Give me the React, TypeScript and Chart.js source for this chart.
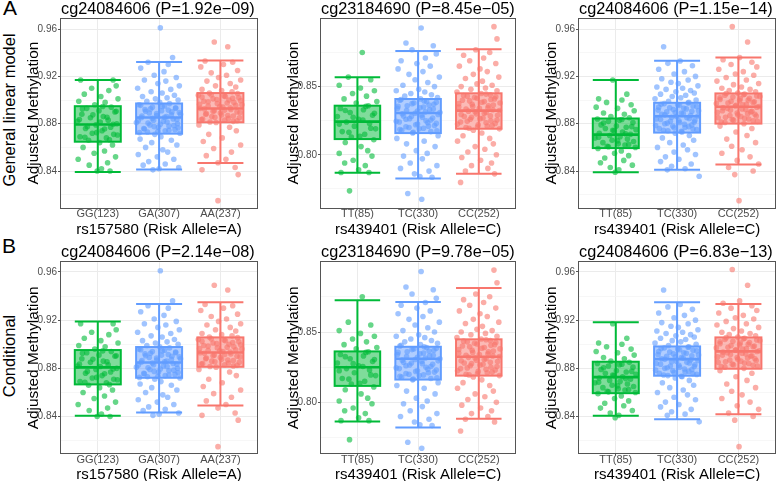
import React, { useEffect, useRef } from "react";
import { Chart, registerables } from "chart.js";
Chart.register(...registerables);

const FONT = "'Liberation Sans', Arial, Helvetica, sans-serif";
Chart.defaults.font.family = FONT;

const COLORS = ["#00BA38", "#619CFF", "#F8766D"];

// ---- categories / titles ----
const CATS_A = ["GG(123)", "GA(307)", "AA(237)"];
const CATS_C = ["TT(85)", "TC(330)", "CC(252)"];
const XTITLE_A = "rs157580 (Risk Allele=A)";
const XTITLE_C = "rs439401 (Risk Allele=C)";
const TITLES = [
  "cg24084606 (P=1.92e\u221209)",
  "cg23184690 (P=8.45e\u221205)",
  "cg24084606 (P=1.15e\u221214)",
  "cg24084606 (P=2.14e\u221208)",
  "cg23184690 (P=9.78e\u221205)",
  "cg24084606 (P=6.83e\u221213)",
];

// ---- y ticks ----
const Y_TICKS_1 = [0.82, 0.84, 0.86, 0.88, 0.9, 0.92, 0.94, 0.96];
const Y_MAJOR_1 = [0.84, 0.88, 0.92, 0.96];
const Y_TICKS_2 = [0.775, 0.8, 0.825, 0.85, 0.875];
const Y_MAJOR_2 = [0.8, 0.85];

// ---- box stats: [lower whisker, Q1, median, Q3, upper whisker] ----
const P1_STATS = [[0.8393, 0.8648, 0.8793, 0.8948, 0.9169], [0.8413, 0.8716, 0.8852, 0.8971, 0.9322], [0.8467, 0.8812, 0.8929, 0.9059, 0.9334]];
const P2_STATS = [[0.7868, 0.8115, 0.8243, 0.836, 0.8569], [0.7826, 0.8159, 0.8306, 0.8409, 0.8762], [0.786, 0.8191, 0.8324, 0.8451, 0.8775]];
const P3_STATS = [[0.839, 0.8594, 0.8708, 0.8844, 0.9169], [0.841, 0.8725, 0.8863, 0.8977, 0.9331], [0.8456, 0.8801, 0.8943, 0.9056, 0.9359]];
const P4_STATS = [[0.8406, 0.8667, 0.8808, 0.8952, 0.919], [0.8434, 0.8722, 0.8849, 0.8977, 0.9334], [0.8492, 0.8813, 0.8932, 0.9057, 0.9348]];
const P5_STATS = [[0.7864, 0.8117, 0.825, 0.8362, 0.8726], [0.7821, 0.8162, 0.831, 0.8395, 0.8714], [0.7883, 0.819, 0.8324, 0.8448, 0.8812]];
const P6_STATS = [[0.8406, 0.8594, 0.8727, 0.8855, 0.9182], [0.8378, 0.8739, 0.8877, 0.8982, 0.9348], [0.842, 0.8797, 0.8941, 0.9057, 0.9334]];

// ---- jittered points: [x offset from category, adjusted methylation] ----
const A_GG = [[-.28,.917],[.25,.917],[.30,.912],[-.10,.910],[.18,.908],[-.22,.905],[.05,.903],[.33,.901],[-.31,.899],[.12,.898],
[-.05,.896],[.22,.894],[-.18,.893],[.02,.891],[.28,.890],[-.26,.888],[.09,.886],[-.12,.885],[.17,.883],[-.33,.882],
[.31,.880],[-.03,.879],[.21,.877],[-.20,.876],[.07,.874],[-.09,.872],[.26,.871],[-.29,.869],[.14,.868],[-.15,.866],
[.03,.864],[.24,.862],[-.24,.860],[.11,.857],[-.06,.855],[.29,.852],[-.32,.850],[.16,.847],[-.14,.845],[.06,.842],[-.01,.840],[.20,.840],
[.08,.8945],[-.25,.8925],[.30,.8905],[-.08,.8875],[.15,.8855],[-.30,.8835],[.04,.8815],[.25,.8795],[-.17,.8775],[.11,.8755],[-.02,.8725],[.32,.8705],[-.21,.8685],[.19,.8665]];
const A_GA = [[.02,.961],[.22,.936],[-.18,.932],[.15,.930],[-.30,.927],[.08,.924],[-.08,.921],[.28,.919],[-.24,.917],[.11,.916],[-.02,.914],[.33,.912],
[-.35,.910],[.19,.909],[-.13,.907],[.05,.906],[.25,.904],[-.27,.903],[.13,.902],[-.06,.901],[.31,.900],[-.20,.899],
[.01,.898],[.17,.897],[-.33,.896],[.09,.895],[-.11,.894],[.27,.893],[-.23,.892],[.04,.891],[.21,.890],[-.16,.889],
[.35,.888],[-.04,.887],[.12,.886],[-.29,.885],[.23,.884],[-.09,.883],[.07,.882],[-.37,.881],[.30,.880],[-.15,.879],
[.16,.878],[-.01,.877],[-.25,.876],[.26,.875],[.10,.874],[-.19,.873],[.34,.872],[-.07,.871],[.03,.869],[-.31,.867],
[.20,.866],[-.12,.864],[.29,.862],[-.22,.860],[.06,.858],[.14,.856],[-.34,.854],[-.03,.852],[.24,.850],[-.17,.848],
[.10,.846],[-.26,.845],[.32,.843],[.00,.842],[-.10,.841],
[-.30,.8955],[.05,.8945],[.27,.8935],[-.14,.8925],[.15,.8915],[-.22,.8905],[.33,.8895],[-.04,.8885],[.20,.8875],[-.28,.8865],[.09,.8855],[-.11,.8845],
[.29,.8835],[-.34,.8825],[.13,.8815],[-.18,.8805],[.02,.8795],[.24,.8785],[-.08,.8775],[.31,.8765],[-.24,.8755],[.16,.8745],[-.02,.8735],[-.32,.8725]];
const A_AA = [[-.10,.949],[.12,.945],[-.25,.933],[.20,.932],[.05,.930],[-.32,.928],[.28,.925],[-.15,.923],[.10,.921],[-.03,.919],
[.33,.917],[-.22,.916],[.16,.914],[-.08,.912],[.25,.911],[-.30,.909],[.02,.908],[.19,.907],[-.18,.906],[-.36,.904],
[.08,.903],[.30,.902],[-.12,.901],[.14,.900],[-.27,.899],[.22,.898],[-.05,.897],[.35,.896],[-.20,.895],[.04,.894],
[-.33,.893],[.17,.892],[-.10,.891],[.27,.890],[.00,.889],[-.24,.888],[.12,.887],[-.14,.886],[.31,.885],[-.29,.884],
[.07,.883],[.21,.882],[-.07,.881],[-.35,.879],[.15,.877],[.26,.874],[-.19,.871],[.03,.868],[-.28,.865],[.33,.862],
[-.11,.859],[.18,.856],[-.23,.853],[.09,.850],[-.04,.847],[.24,.843],[-.30,.841],[.29,.837],[-.04,.815],
[.28,.9055],[-.15,.9045],[.06,.9035],[-.30,.9025],[.20,.9015],[-.06,.9005],[.33,.8995],[-.20,.8985],[.11,.8975],[-.34,.8965],[.25,.8955],[-.01,.8945],
[.16,.8935],[-.26,.8925],[.07,.8915],[-.12,.8905],[.32,.8895],[-.23,.8885],[.02,.8875],[.21,.8865],[-.09,.8855],[.13,.8845],[-.31,.8835],[.27,.8825],[-.17,.8815]];

const B_TT = [[.08,.875],[-.15,.857],[.22,.855],[-.30,.851],[.05,.849],[.28,.847],[-.08,.845],[.15,.843],[-.22,.841],[.32,.839],
[-.02,.838],[.18,.836],[-.28,.834],[.10,.833],[-.12,.831],[.25,.829],[-.33,.828],[.02,.826],[-.18,.824],[.20,.823],
[-.05,.821],[.30,.819],[-.25,.817],[.12,.815],[-.10,.813],[.27,.811],[-.20,.809],[.06,.806],[.17,.803],[-.30,.801],
[.24,.799],[-.07,.796],[-.21,.794],[.13,.792],[.02,.789],[-.27,.787],[.19,.787],[-.13,.7735],
[.14,.8355],[-.20,.8325],[.28,.8305],[-.07,.8275],[.09,.8255],[-.30,.8225],[.22,.8195],[-.14,.8165],[.04,.8135]];
const B_TC = [[.05,.893],[-.20,.882],[.25,.880],[-.10,.877],[.30,.874],[.12,.871],[-.28,.869],[-.02,.867],[.20,.865],[-.33,.863],
[.08,.861],[-.15,.859],[.35,.857],[-.05,.855],[.16,.853],[-.25,.851],[.27,.850],[.01,.848],[-.36,.847],[.11,.846],
[-.12,.845],[.22,.844],[-.22,.843],[.32,.842],[.04,.841],[-.30,.840],[.14,.839],[-.07,.838],[.26,.837],[-.18,.836],
[.09,.835],[-.34,.834],[.19,.833],[-.01,.832],[.36,.831],[-.26,.830],[.06,.829],[-.11,.828],[.24,.827],[-.20,.826],
[.13,.825],[-.31,.824],[.30,.823],[-.04,.822],[.17,.821],[-.15,.820],[.02,.819],[-.27,.818],[.21,.817],[-.09,.816],
[.33,.814],[-.35,.812],[.10,.810],[-.19,.808],[.28,.806],[-.03,.803],[.15,.801],[-.24,.799],[.07,.797],[-.13,.794],
[.31,.792],[-.29,.790],[.18,.788],[-.06,.786],[.03,.784],[.23,.7835],[-.17,.7716],[.06,.7674],
[-.28,.8405],[.10,.8395],[.30,.8385],[-.10,.8375],[.18,.8365],[-.33,.8355],[.03,.8345],[.25,.8335],[-.19,.8325],[.12,.8315],[-.05,.8305],[.33,.8295],
[-.24,.8285],[.07,.8275],[-.14,.8265],[.21,.8255],[-.36,.8245],[.16,.8235],[-.01,.8225],[.27,.8215],[-.20,.8205],[.09,.8195],[-.30,.8185],[.31,.8175],[-.08,.8165]];
const B_CC = [[.25,.894],[.30,.885],[-.05,.877],[.18,.875],[-.25,.873],[.08,.871],[-.15,.869],[.28,.867],[-.32,.865],[.02,.863],
[.14,.861],[-.09,.859],[.33,.857],[-.22,.856],[.06,.854],[-.03,.852],[.22,.851],[-.29,.850],[.11,.849],[-.13,.848],
[.30,.847],[-.36,.846],[.04,.845],[.19,.844],[-.19,.843],[-.07,.842],[.26,.841],[-.27,.840],[.09,.839],[.35,.838],
[-.11,.837],[.16,.836],[-.33,.835],[.01,.834],[.23,.833],[-.17,.832],[.12,.831],[-.04,.830],[.31,.829],[-.24,.828],
[.07,.827],[-.14,.826],[.20,.825],[-.30,.824],[.27,.823],[-.01,.822],[.14,.821],[-.21,.820],[.34,.819],[-.09,.818],
[.05,.816],[-.26,.814],[.18,.812],[-.35,.810],[.24,.808],[-.06,.806],[.10,.804],[-.18,.802],[.29,.800],[-.28,.798],
[.03,.796],[.21,.794],[-.12,.792],[.15,.790],[-.22,.788],[.26,.786],[-.30,.7797],
[.12,.8445],[-.25,.8435],[.28,.8425],[-.03,.8415],[.20,.8405],[-.15,.8395],[.05,.8385],[-.33,.8375],[.24,.8365],[-.10,.8355],[.15,.8345],[-.21,.8335],[.34,.8325],
[-.06,.8315],[.09,.8305],[-.29,.8295],[.19,.8285],[-.12,.8275],[.02,.8265],[.30,.8255],[-.19,.8245],[.12,.8235],[-.35,.8225],[.22,.8215],[-.02,.8205],[-.16,.8195]];

const C_TT = [[-.05,.917],[.18,.905],[-.28,.901],[.10,.900],[-.15,.898],[.25,.896],[-.32,.894],[.03,.893],[.30,.891],[-.20,.889],
[.14,.888],[-.08,.886],[.22,.885],[-.30,.884],[.06,.883],[-.12,.882],[.28,.881],[-.24,.879],[.01,.878],[.17,.877],
[-.17,.876],[.33,.875],[-.03,.874],[.11,.873],[-.27,.872],[.24,.871],[-.10,.870],[.07,.869],[-.34,.868],[.19,.867],
[-.06,.866],[.29,.865],[-.21,.864],[.04,.863],[.15,.862],[-.14,.861],[.32,.860],[-.29,.859],[.09,.857],[-.02,.855],
[.21,.853],[-.18,.851],[.13,.849],[-.25,.847],[.27,.845],[-.09,.843],[.05,.841],[-.01,.839],
[.10,.8835],[-.20,.8805],[.26,.8775],[-.05,.8745],[.16,.8715],[-.28,.8685],[.03,.8655],[.21,.8625],[-.12,.8605]];
const C_TC = [[-.22,.945],[.05,.933],[-.15,.931],[.25,.929],[-.30,.926],[.12,.924],[-.05,.922],[.30,.920],[-.25,.918],[.18,.917],
[-.10,.915],[.02,.914],[.34,.912],[-.33,.911],[.09,.910],[-.18,.909],[.22,.908],[-.02,.907],[.28,.906],[-.27,.905],
[.14,.904],[-.08,.903],[.06,.902],[-.36,.901],[.31,.900],[-.14,.899],[.19,.898],[-.21,.897],[.01,.896],[.26,.895],
[-.30,.894],[.11,.893],[-.06,.892],[.35,.891],[-.17,.890],[.07,.889],[-.25,.888],[.22,.887],[-.01,.886],[.16,.885],
[-.34,.884],[.29,.883],[-.11,.882],[.04,.881],[-.20,.880],[.24,.879],[-.07,.878],[.13,.877],[-.29,.876],[.32,.875],
[-.15,.874],[.08,.873],[-.03,.872],[.20,.870],[-.24,.868],[.27,.866],[-.12,.864],[.10,.862],[-.32,.860],[.17,.858],
[-.05,.856],[.30,.854],[-.19,.852],[.03,.850],[-.27,.848],[.23,.846],[-.09,.844],[.13,.842],[.36,.8356],[-.16,.841],
[.18,.8975],[-.26,.8965],[.04,.8955],[.32,.8945],[-.12,.8935],[.15,.8925],[-.31,.8915],[.24,.8905],[-.03,.8895],[.10,.8885],[-.20,.8875],[.34,.8865],
[-.09,.8855],[.20,.8845],[-.27,.8835],[.03,.8825],[.28,.8815],[-.16,.8805],[.12,.8795],[-.35,.8785],[.19,.8775],[-.05,.8765],[.26,.8755],[-.22,.8745],[.07,.8735]];
const C_CC = [[-.10,.962],[.15,.949],[.02,.936],[-.25,.934],[.22,.932],[-.12,.930],[.30,.928],[-.32,.926],[.08,.924],[-.05,.922],
[.25,.921],[-.20,.919],[.13,.917],[-.35,.916],[.33,.914],[-.08,.913],[.05,.911],[-.27,.910],[.19,.909],[-.15,.908],
[.28,.907],[-.01,.906],[.10,.905],[-.22,.904],[.35,.903],[-.30,.902],[.03,.901],[.16,.900],[-.12,.899],[.24,.898],
[-.36,.897],[.07,.896],[-.05,.895],[.30,.894],[-.18,.893],[.12,.892],[-.26,.891],[.20,.890],[-.02,.889],[.27,.888],
[-.14,.887],[.04,.886],[-.33,.885],[.17,.884],[-.08,.883],[.31,.882],[-.22,.881],[.09,.880],[-.30,.878],[.22,.876],
[-.04,.873],[.14,.870],[-.19,.867],[.28,.864],[-.11,.861],[.06,.858],[-.27,.855],[.19,.852],[-.02,.849],[.33,.846],
[-.16,.843],[.24,.840],[-.06,.837],[.01,.815],
[-.20,.9055],[.08,.9045],[.30,.9035],[-.09,.9025],[.18,.9015],[-.30,.9005],[.02,.8995],[.26,.8985],[-.17,.8975],[.13,.8965],[-.04,.8955],[.34,.8945],
[-.25,.8935],[.06,.8925],[-.13,.8915],[.22,.8905],[-.34,.8895],[.15,.8885],[-.01,.8875],[.29,.8865],[-.21,.8855],[.10,.8845],[-.10,.8835],[.24,.8825],[-.28,.8815]];

function hexA(hex: string, a: number) {
  const n = parseInt(hex.slice(1), 16);
  return `rgba(${n >> 16},${(n >> 8) & 255},${n & 255},${a})`;
}

type PanelProps = {
  left: number; top: number; width: number; height: number;
  pad: { left: number; right: number; top: number; bottom: number };
  title: string; xTitle: string; cats: string[];
  stats: number[][]; pts: number[][][];
  yMin: number; yMax: number; yTicks: number[]; yMajor: number[];
};

function Panel(p: PanelProps) {
  const ref = useRef<HTMLCanvasElement>(null);
  useEffect(() => {
    const isMajor = (v: number) => p.yMajor.some((m) => Math.abs(m - v) < 1e-6);
    const boxPlugin = {
      id: "boxes",
      beforeDatasetsDraw(chart: any) {
        const { ctx, scales } = chart;
        const x = scales.x, y = scales.y;
        ctx.save();
        p.stats.forEach((s, i) => {
          const cx = x.getPixelForValue(i);
          const hw = x.getPixelForValue(i + 0.375) - cx;
          const q1 = y.getPixelForValue(s[1]);
          const q3 = y.getPixelForValue(s[3]);
          ctx.fillStyle = hexA(COLORS[i], 0.5);
          ctx.fillRect(cx - hw, q3, 2 * hw, q1 - q3);
        });
        ctx.restore();
      },
      afterDatasetsDraw(chart: any) {
        const { ctx, scales } = chart;
        const x = scales.x, y = scales.y;
        ctx.save();
        p.stats.forEach((s, i) => {
          const cx = x.getPixelForValue(i);
          const hw = x.getPixelForValue(i + 0.375) - cx;
          const lo = y.getPixelForValue(s[0]);
          const q1 = y.getPixelForValue(s[1]);
          const md = y.getPixelForValue(s[2]);
          const q3 = y.getPixelForValue(s[3]);
          const hi = y.getPixelForValue(s[4]);
          ctx.strokeStyle = COLORS[i];
          ctx.lineWidth = 2;
          ctx.beginPath();
          ctx.moveTo(cx, hi); ctx.lineTo(cx, lo);
          ctx.moveTo(cx - hw, hi); ctx.lineTo(cx + hw, hi);
          ctx.moveTo(cx - hw, lo); ctx.lineTo(cx + hw, lo);
          ctx.stroke();
          ctx.strokeRect(cx - hw, q3, 2 * hw, q1 - q3);
          ctx.lineWidth = 2.6;
          ctx.beginPath();
          ctx.moveTo(cx - hw, md); ctx.lineTo(cx + hw, md);
          ctx.stroke();
        });
        ctx.restore();
      },
      afterDraw(chart: any) {
        const { ctx, chartArea: a } = chart;
        ctx.save();
        ctx.strokeStyle = "#555555";
        ctx.lineWidth = 1;
        ctx.strokeRect(Math.round(a.left) - 0.5, Math.round(a.top) - 0.5, Math.round(a.right) - Math.round(a.left) + 1, Math.round(a.bottom) - Math.round(a.top) + 1);
        ctx.restore();
      },
    };
    const chart = new Chart(ref.current as HTMLCanvasElement, {
      type: "scatter",
      data: {
        datasets: p.pts.map((arr, i) => ({
          data: arr.map(([dx, v]) => ({ x: i + dx, y: v })),
          pointRadius: 2.8,
          pointHoverRadius: 2.8,
          pointBorderWidth: 0,
          pointBackgroundColor: hexA(COLORS[i], 0.6),
          pointBorderColor: "rgba(0,0,0,0)",
        })),
      },
      options: {
        responsive: false,
        animation: false,
        events: [],
        layout: { padding: p.pad },
        plugins: {
          legend: { display: false },
          tooltip: { enabled: false },
          title: {
            display: true,
            text: p.title,
            align: "start",
            fullSize: false,
            color: "#000",
            font: { size: 16.3, weight: "normal", family: FONT, lineHeight: 1.15 },
            padding: { top: 0, bottom: 0 },
          },
        },
        scales: {
          x: {
            type: "linear",
            min: -0.6,
            max: 2.6,
            afterBuildTicks: (s: any) => { s.ticks = [0, 1, 2].map((v) => ({ value: v })); },
            afterFit: (s: any) => { s.height = 33; },
            ticks: {
              callback: (v: any) => p.cats[Math.round(Number(v))] ?? "",
              font: { size: 11, family: FONT },
              color: "#4d4d4d",
              padding: -2,
              maxRotation: 0,
              autoSkip: false,
            },
            grid: { color: "#ebebeb", lineWidth: 1, tickLength: 2, tickColor: "#555555" },
            border: { display: false },
            title: {
              display: true,
              text: p.xTitle,
              color: "#000",
              font: { size: 15, family: FONT, lineHeight: 1.15 },
              padding: { top: 0, bottom: 2.5 },
            },
          },
          y: {
            type: "linear",
            min: p.yMin,
            max: p.yMax,
            afterBuildTicks: (s: any) => { s.ticks = p.yTicks.map((v) => ({ value: v })); },
            afterFit: (s: any) => { s.width = 42; },
            ticks: {
              callback: (v: any) => (isMajor(Number(v)) ? Number(v).toFixed(2) : ""),
              font: { size: 10, family: FONT },
              color: "#4d4d4d",
              padding: 1,
              autoSkip: false,
            },
            grid: {
              color: (c: any) => (c.tick && isMajor(c.tick.value) ? "#ebebeb" : "#f3f3f3"),
              lineWidth: (c: any) => (c.tick && isMajor(c.tick.value) ? 1 : 0.7),
              tickLength: 3,
              tickColor: (c: any) => (c.tick && isMajor(c.tick.value) ? "#555555" : "rgba(0,0,0,0)"),
            },
            border: { display: false },
            title: {
              display: true,
              text: "Adjusted Methylation",
              color: "#000",
              font: { size: 15.4, family: FONT, lineHeight: 1.15 },
              padding: { top: 6, bottom: 0 },
            },
          },
        },
      } as any,
      plugins: [boxPlugin as any],
    });
    return () => chart.destroy();
  }, []);
  return (
    <canvas
      ref={ref}
      width={p.width}
      height={p.height}
      style={{ position: "absolute", left: p.left, top: p.top, width: p.width, height: p.height }}
    />
  );
}

const ROW1 = { top: 0, height: 241, padTop: 0, padBottom: 0.5 };
const ROW2 = { top: 243, height: 244, padTop: 0.6, padBottom: 0.7 };
const COLS = [
  { left: 19, width: 241, padRight: 1 },
  { left: 279, width: 239, padRight: 1.3 },
  { left: 537, width: 241, padRight: 1 },
];

export default function App() {
  const panels = [
    { row: ROW1, col: COLS[0], title: TITLES[0], xTitle: XTITLE_A, cats: CATS_A, stats: P1_STATS, pts: [A_GG, A_GA, A_AA], yMin: 0.8092, yMax: 0.9687, yTicks: Y_TICKS_1, yMajor: Y_MAJOR_1 },
    { row: ROW1, col: COLS[1], title: TITLES[1], xTitle: XTITLE_C, cats: CATS_C, stats: P2_STATS, pts: [B_TT, B_TC, B_CC], yMin: 0.7613, yMax: 0.8998, yTicks: Y_TICKS_2, yMajor: Y_MAJOR_2 },
    { row: ROW1, col: COLS[2], title: TITLES[2], xTitle: XTITLE_C, cats: CATS_C, stats: P3_STATS, pts: [C_TT, C_TC, C_CC], yMin: 0.8092, yMax: 0.9687, yTicks: Y_TICKS_1, yMajor: Y_MAJOR_1 },
    { row: ROW2, col: COLS[0], title: TITLES[3], xTitle: XTITLE_A, cats: CATS_A, stats: P4_STATS, pts: [A_GG, A_GA, A_AA], yMin: 0.8095, yMax: 0.968, yTicks: Y_TICKS_1, yMajor: Y_MAJOR_1 },
    { row: ROW2, col: COLS[1], title: TITLES[4], xTitle: XTITLE_C, cats: CATS_C, stats: P5_STATS, pts: [B_TT, B_TC, B_CC], yMin: 0.7638, yMax: 0.8995, yTicks: Y_TICKS_2, yMajor: Y_MAJOR_2 },
    { row: ROW2, col: COLS[2], title: TITLES[5], xTitle: XTITLE_C, cats: CATS_C, stats: P6_STATS, pts: [C_TT, C_TC, C_CC], yMin: 0.8095, yMax: 0.968, yTicks: Y_TICKS_1, yMajor: Y_MAJOR_1 },
  ];
  const rowLabel = (text: string, cx: number, cy: number) => (
    <div
      style={{
        position: "absolute", left: cx - 110, top: cy - 10, width: 220, height: 20,
        lineHeight: "20px", textAlign: "center", fontSize: 16.5, fontFamily: FONT, color: "#000",
        transform: "rotate(-90deg)", whiteSpace: "nowrap",
      }}
    >
      {text}
    </div>
  );
  return (
    <div style={{ position: "fixed", left: 0, top: 0, width: 778, height: 481, overflow: "hidden", background: "#fff" }}>
      {panels.map((q, i) => (
        <Panel
          key={i}
          left={q.col.left}
          top={q.row.top}
          width={q.col.width}
          height={q.row.height}
          pad={{ left: 0, right: q.col.padRight, top: q.row.padTop, bottom: q.row.padBottom }}
          title={q.title}
          xTitle={q.xTitle}
          cats={q.cats}
          stats={q.stats}
          pts={q.pts}
          yMin={q.yMin}
          yMax={q.yMax}
          yTicks={q.yTicks}
          yMajor={q.yMajor}
        />
      ))}
      <div style={{ position: "absolute", left: 3, top: -2.8, fontSize: 21, lineHeight: "21px", fontFamily: FONT, color: "#000" }}>A</div>
      <div style={{ position: "absolute", left: 2, top: 234.7, fontSize: 21, lineHeight: "21px", fontFamily: FONT, color: "#000" }}>B</div>
      {rowLabel("General linear model", 8.5, 110)}
      {rowLabel("Conditional", 8.5, 356)}
    </div>
  );
}
